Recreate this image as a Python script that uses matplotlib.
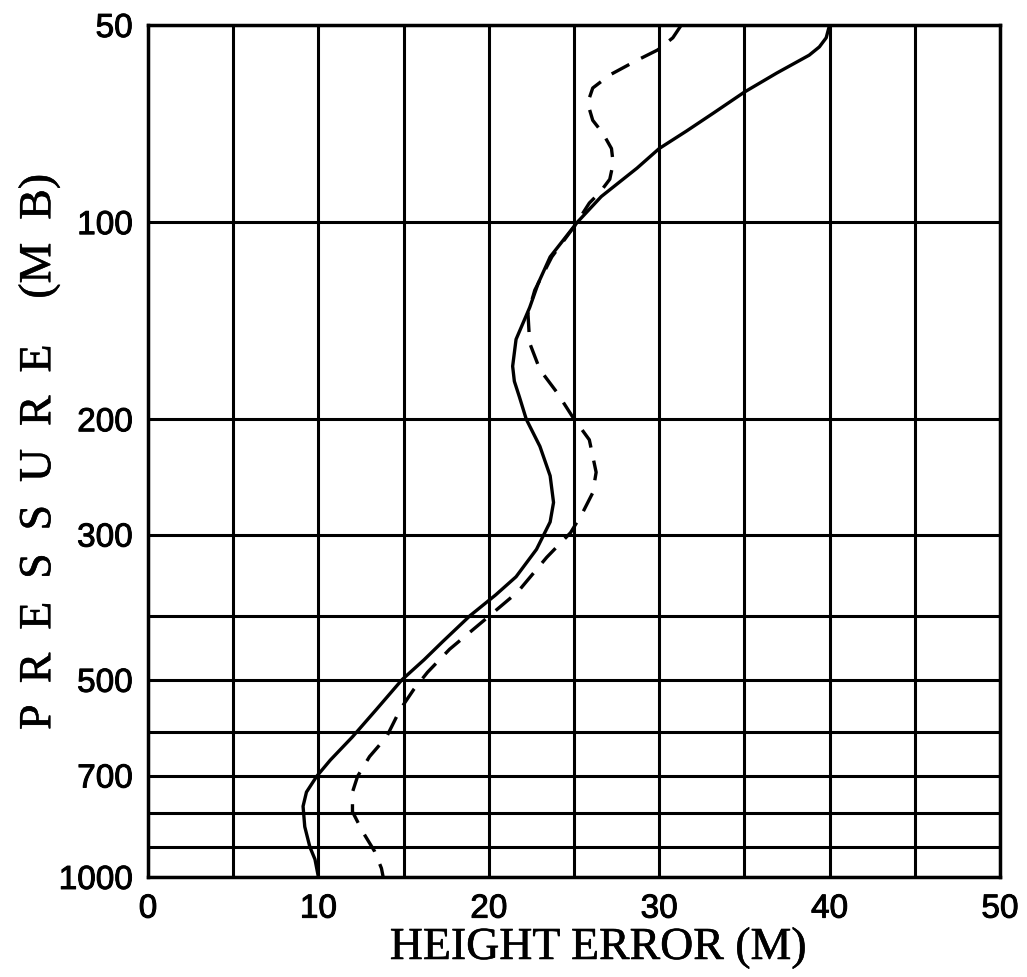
import matplotlib
matplotlib.use("Agg")
from matplotlib import pyplot as plt
from matplotlib import patheffects
from matplotlib.ticker import FixedLocator, NullFormatter

# pressure levels (mb) and height error (m)
solid_p = [50, 52.3, 54.0, 55.6, 59.2, 63.3, 68.1, 72.6, 77.2, 82.7, 91.4, 100,
           113, 124, 135, 151, 166, 175, 185, 200, 220, 244, 268, 287, 316, 348,
           371, 399, 437, 466, 500, 555, 611, 663, 702, 742, 780, 838, 900, 940, 1000]
solid_err = [40.0, 39.8, 39.4, 38.8, 36.9, 35.0, 33.2, 31.6, 30.0, 28.7, 26.6, 25.2,
             23.6, 22.9, 22.4, 21.6, 21.4, 21.5, 21.8, 22.2, 23.0, 23.6, 23.8, 23.6, 22.8, 21.6,
             20.4, 18.9, 17.3, 16.2, 14.9, 13.4, 12.0, 10.7, 9.9, 9.3, 9.1, 9.2, 9.5, 9.8, 10.0]

dashed_p = [50, 52.3, 54.6, 56.6, 59.6, 62.4, 65.8, 69.9, 73.2, 77.2, 81.3, 86, 90.2,
            93.5, 98, 100, 113, 127, 138, 153, 168, 182, 198, 215, 241, 259, 278, 298,
            325, 367, 400, 449, 487, 517, 555, 611, 655, 702, 742, 795, 853, 914, 970, 1000]
dashed_err = [31.3, 30.8, 29.9, 28.7, 27.1, 26.1, 25.8, 26.1, 26.7, 27.2, 27.3, 27.1, 26.5,
              25.9, 25.4, 25.2, 23.7, 22.7, 22.3, 22.4, 23.0, 24.0, 24.9, 25.9, 26.3, 26.1, 25.5, 24.8,
              23.4, 21.7, 20.0, 17.7, 16.4, 15.6, 14.8, 14.0, 13.0, 12.3, 12.0, 12.0, 12.6, 13.3, 13.7, 13.8]

p_labels = [50, 100, 200, 300, 500, 700, 1000]
p_extra = [400, 600, 800, 900]
x_major = [0, 10, 20, 30, 40, 50]
x_minor = [5, 15, 25, 35, 45]

fig = plt.figure(figsize=(10.27, 9.77), dpi=100)
ax = fig.add_axes([0.1441, 0.1024, 0.8296, 0.872])

ax.plot(solid_err, solid_p, color="black", lw=2.4,
        solid_joinstyle="round", solid_capstyle="round")
ax.plot(dashed_err, dashed_p, color="black", lw=2.4, linestyle=(0, (6, 4)),
        dash_joinstyle="round")

ax.set_yscale("log")
ax.set_ylim(1000, 50)
ax.set_xlim(0, 50)

ax.yaxis.set_major_locator(FixedLocator(p_labels))
ax.yaxis.set_minor_locator(FixedLocator(p_extra))
ax.yaxis.set_minor_formatter(NullFormatter())
ax.set_yticklabels([str(v) for v in p_labels])
ax.xaxis.set_major_locator(FixedLocator(x_major))
ax.xaxis.set_minor_locator(FixedLocator(x_minor))
ax.set_xticklabels([str(v) for v in x_major])

ax.grid(True, which="both", color="black", lw=2.2)
ax.set_axisbelow(True)
for s in ax.spines.values():
    s.set_linewidth(2.5)

# thicken the glyphs a little, the scan has heavy print
heavy = [patheffects.withStroke(linewidth=0.7, foreground="black")]
light = [patheffects.withStroke(linewidth=0.4, foreground="black")]

tick_font = {"family": "Liberation Sans", "size": 24}
ax.tick_params(which="both", length=0)
ax.tick_params(axis="y", pad=11)
ax.tick_params(axis="x", pad=12)
for lab in ax.get_xticklabels() + ax.get_yticklabels():
    lab.set_fontproperties(tick_font)
    lab.set_path_effects(heavy)

xl = ax.set_xlabel("HEIGHT ERROR (M)", family="Liberation Serif", fontsize=33,
                   va="baseline")
ax.xaxis.set_label_coords(0.529, -0.0963)
yl = ax.set_ylabel("P  R  E  S  S  U  R  E    (M  B)", family="Liberation Serif",
                   fontsize=33, va="center")
ax.yaxis.set_label_coords(-0.128, 0.5)
xl.set_path_effects(light)
yl.set_path_effects(light)

plt.savefig("out.png", dpi=100)
